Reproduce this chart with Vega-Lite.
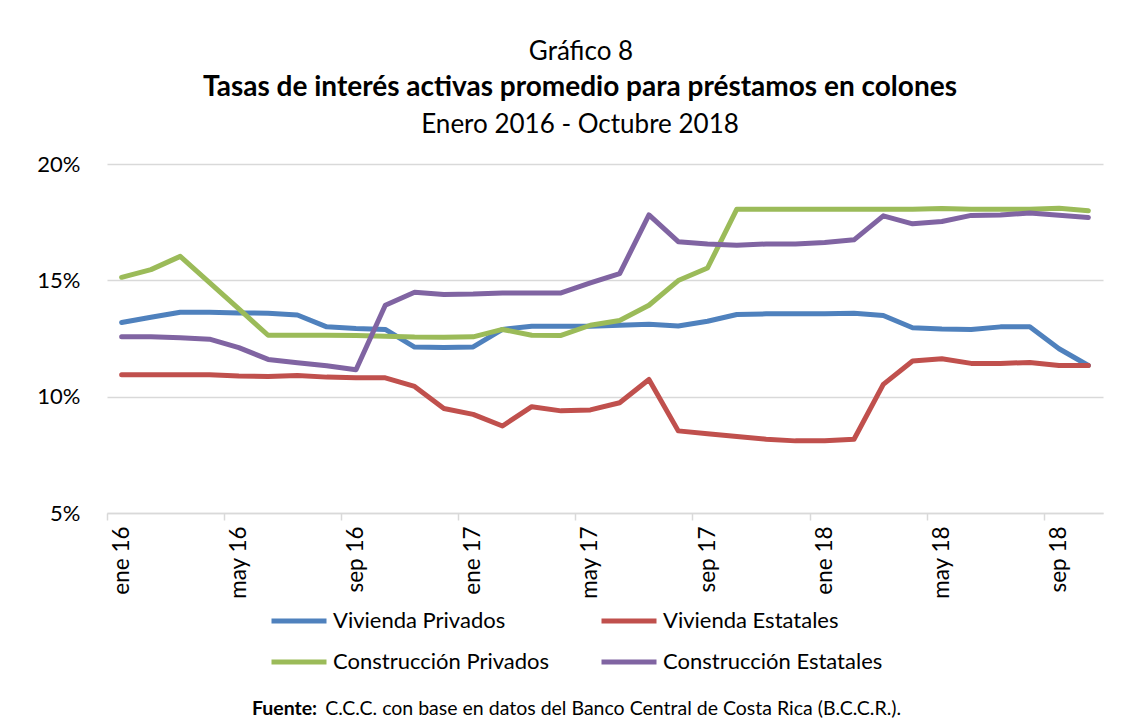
{
  "$schema": "https://vega.github.io/schema/vega-lite/v6.json",
  "background": "white",
  "padding": {"left": 7, "top": 39, "right": 10, "bottom": 5},
  "title": {"text": "Gráfico 8", "fontSize": 26, "fontWeight": "normal", "font": "Lato", "anchor": "middle", "color": "black", "offset": 9, "dx": 26},
  "datasets": {
    "tasas": [
      {"mes": "ene 16", "Vivienda Privados": 13.19, "Vivienda Estatales": 10.94, "Construcción Privados": 15.13, "Construcción Estatales": 12.57},
      {"mes": "feb 16", "Vivienda Privados": 13.41, "Vivienda Estatales": 10.94, "Construcción Privados": 15.46, "Construcción Estatales": 12.57},
      {"mes": "mar 16", "Vivienda Privados": 13.63, "Vivienda Estatales": 10.94, "Construcción Privados": 16.03, "Construcción Estatales": 12.53},
      {"mes": "abr 16", "Vivienda Privados": 13.63, "Vivienda Estatales": 10.94, "Construcción Privados": 14.9, "Construcción Estatales": 12.47},
      {"mes": "may 16", "Vivienda Privados": 13.6, "Vivienda Estatales": 10.89, "Construcción Privados": 13.77, "Construcción Estatales": 12.11},
      {"mes": "jun 16", "Vivienda Privados": 13.59, "Vivienda Estatales": 10.87, "Construcción Privados": 12.64, "Construcción Estatales": 11.6},
      {"mes": "jul 16", "Vivienda Privados": 13.51, "Vivienda Estatales": 10.91, "Construcción Privados": 12.64, "Construcción Estatales": 11.46},
      {"mes": "ago 16", "Vivienda Privados": 13.0, "Vivienda Estatales": 10.84, "Construcción Privados": 12.64, "Construcción Estatales": 11.33},
      {"mes": "sep 16", "Vivienda Privados": 12.93, "Vivienda Estatales": 10.81, "Construcción Privados": 12.63, "Construcción Estatales": 11.16},
      {"mes": "oct 16", "Vivienda Privados": 12.89, "Vivienda Estatales": 10.81, "Construcción Privados": 12.6, "Construcción Estatales": 13.93},
      {"mes": "nov 16", "Vivienda Privados": 12.13, "Vivienda Estatales": 10.44, "Construcción Privados": 12.56, "Construcción Estatales": 14.49},
      {"mes": "dic 16", "Vivienda Privados": 12.11, "Vivienda Estatales": 9.49, "Construcción Privados": 12.55, "Construcción Estatales": 14.39},
      {"mes": "ene 17", "Vivienda Privados": 12.14, "Vivienda Estatales": 9.24, "Construcción Privados": 12.57, "Construcción Estatales": 14.41},
      {"mes": "feb 17", "Vivienda Privados": 12.89, "Vivienda Estatales": 8.74, "Construcción Privados": 12.89, "Construcción Estatales": 14.46},
      {"mes": "mar 17", "Vivienda Privados": 13.03, "Vivienda Estatales": 9.57, "Construcción Privados": 12.64, "Construcción Estatales": 14.46},
      {"mes": "abr 17", "Vivienda Privados": 13.03, "Vivienda Estatales": 9.39, "Construcción Privados": 12.63, "Construcción Estatales": 14.46},
      {"mes": "may 17", "Vivienda Privados": 13.03, "Vivienda Estatales": 9.43, "Construcción Privados": 13.07, "Construcción Estatales": 14.89},
      {"mes": "jun 17", "Vivienda Privados": 13.07, "Vivienda Estatales": 9.74, "Construcción Privados": 13.27, "Construcción Estatales": 15.29},
      {"mes": "jul 17", "Vivienda Privados": 13.11, "Vivienda Estatales": 10.74, "Construcción Privados": 13.93, "Construcción Estatales": 17.81},
      {"mes": "ago 17", "Vivienda Privados": 13.04, "Vivienda Estatales": 8.53, "Construcción Privados": 14.99, "Construcción Estatales": 16.66},
      {"mes": "sep 17", "Vivienda Privados": 13.24, "Vivienda Estatales": 8.41, "Construcción Privados": 15.53, "Construcción Estatales": 16.56},
      {"mes": "oct 17", "Vivienda Privados": 13.53, "Vivienda Estatales": 8.29, "Construcción Privados": 18.06, "Construcción Estatales": 16.51},
      {"mes": "nov 17", "Vivienda Privados": 13.56, "Vivienda Estatales": 8.17, "Construcción Privados": 18.06, "Construcción Estatales": 16.56},
      {"mes": "dic 17", "Vivienda Privados": 13.56, "Vivienda Estatales": 8.1, "Construcción Privados": 18.06, "Construcción Estatales": 16.56},
      {"mes": "ene 18", "Vivienda Privados": 13.56, "Vivienda Estatales": 8.11, "Construcción Privados": 18.06, "Construcción Estatales": 16.63},
      {"mes": "feb 18", "Vivienda Privados": 13.59, "Vivienda Estatales": 8.17, "Construcción Privados": 18.06, "Construcción Estatales": 16.74},
      {"mes": "mar 18", "Vivienda Privados": 13.49, "Vivienda Estatales": 10.53, "Construcción Privados": 18.06, "Construcción Estatales": 17.77},
      {"mes": "abr 18", "Vivienda Privados": 12.96, "Vivienda Estatales": 11.53, "Construcción Privados": 18.06, "Construcción Estatales": 17.43},
      {"mes": "may 18", "Vivienda Privados": 12.91, "Vivienda Estatales": 11.63, "Construcción Privados": 18.09, "Construcción Estatales": 17.53},
      {"mes": "jun 18", "Vivienda Privados": 12.89, "Vivienda Estatales": 11.43, "Construcción Privados": 18.06, "Construcción Estatales": 17.79},
      {"mes": "jul 18", "Vivienda Privados": 13.0, "Vivienda Estatales": 11.43, "Construcción Privados": 18.06, "Construcción Estatales": 17.81},
      {"mes": "ago 18", "Vivienda Privados": 13.0, "Vivienda Estatales": 11.47, "Construcción Privados": 18.06, "Construcción Estatales": 17.89},
      {"mes": "sep 18", "Vivienda Privados": 12.06, "Vivienda Estatales": 11.34, "Construcción Privados": 18.1, "Construcción Estatales": 17.8},
      {"mes": "oct 18", "Vivienda Privados": 11.34, "Vivienda Estatales": 11.34, "Construcción Privados": 17.99, "Construcción Estatales": 17.7}
    ],
    "fuente": [
      {"parte": 1, "texto": "Fuente:"},
      {"parte": 2, "texto": "C.C.C. con base en datos del Banco Central de Costa Rica (B.C.C.R.)."}
    ]
  },
  "resolve": {"scale": {"x": "independent", "y": "independent", "color": "independent"}, "legend": {"color": "independent"}},
  "spacing": 26,
  "vconcat": [
    {
      "title": {"text": "Tasas de interés activas promedio para préstamos en colones", "subtitle": "Enero 2016 - Octubre 2018", "fontSize": 28, "fontWeight": "bold", "subtitleFontSize": 26, "subtitleFont": "Lato", "subtitleColor": "black", "subtitlePadding": 10, "font": "Lato", "color": "black", "anchor": "middle", "offset": 15, "dx": -25},
      "width": 996,
      "height": 349,
      "data": {"name": "tasas"},
      "transform": [{"fold": ["Vivienda Privados", "Vivienda Estatales", "Construcción Privados", "Construcción Estatales"], "as": ["serie", "valor"]}],
      "mark": {"type": "line", "strokeWidth": 5, "strokeCap": "round", "strokeJoin": "round"},
      "encoding": {
        "x": {
          "field": "mes", "type": "ordinal",
          "sort": ["ene 16","feb 16","mar 16","abr 16","may 16","jun 16","jul 16","ago 16","sep 16","oct 16","nov 16","dic 16","ene 17","feb 17","mar 17","abr 17","may 17","jun 17","jul 17","ago 17","sep 17","oct 17","nov 17","dic 17","ene 18","feb 18","mar 18","abr 18","may 18","jun 18","jul 18","ago 18","sep 18","oct 18"],
          "scale": {"type": "band", "paddingInner": 0, "paddingOuter": 0},
          "axis": {"values": ["ene 16","may 16","sep 16","ene 17","may 17","sep 17","ene 18","may 18","sep 18"], "title": null, "labelAngle": -90, "labelFontSize": 22.5, "labelFont": "Lato", "labelColor": "black", "labelPadding": 6, "bandPosition": 0, "domainColor": "#D9D9D9", "domainWidth": 1.5, "tickColor": "#D9D9D9", "tickWidth": 1.5, "tickSize": 7, "grid": false}
        },
        "y": {
          "field": "valor", "type": "quantitative",
          "scale": {"domain": [5, 20], "nice": false, "zero": false},
          "axis": {"values": [5, 10, 15, 20], "labelExpr": "datum.value + '%'", "title": null, "domain": false, "ticks": false, "gridColor": "#D9D9D9", "gridWidth": 1.5, "labelFontSize": 22, "labelFont": "Lato", "labelColor": "black", "labelPadding": 27, "minExtent": 100, "maxExtent": 100}
        },
        "color": {
          "field": "serie", "type": "nominal",
          "scale": {"domain": ["Vivienda Privados", "Vivienda Estatales", "Construcción Privados", "Construcción Estatales"], "range": ["#4F81BD", "#C0504D", "#9BBB59", "#8064A2"]},
          "legend": {"orient": "none", "direction": "horizontal", "legendX": 162, "legendY": 427, "columns": 2, "title": null, "symbolType": "stroke", "symbolStrokeWidth": 5, "symbolSize": 3025, "labelFontSize": 22, "labelFont": "Lato", "labelColor": "black", "columnPadding": 41, "rowPadding": 0, "labelLimit": 400, "labelOffset": 4}
        }
      }
    },
    {
      "width": 996,
      "height": 20,
      "data": {"name": "fuente"},
      "layer": [
        {
          "transform": [{"filter": "datum.parte == 1"}],
          "mark": {"type": "text", "align": "right", "fontWeight": "bold", "fontSize": 19.5, "font": "Lato", "color": "black"},
          "encoding": {"text": {"field": "texto"}, "x": {"datum": 0.211, "type": "quantitative", "scale": {"domain": [0, 1]}, "axis": null}}
        },
        {
          "transform": [{"filter": "datum.parte == 2"}],
          "mark": {"type": "text", "align": "left", "dx": 8, "fontSize": 19.5, "font": "Lato", "color": "black"},
          "encoding": {"text": {"field": "texto"}, "x": {"datum": 0.211, "type": "quantitative", "scale": {"domain": [0, 1]}, "axis": null}}
        }
      ]
    }
  ],
  "config": {"view": {"stroke": null}, "font": "Lato"}
}
